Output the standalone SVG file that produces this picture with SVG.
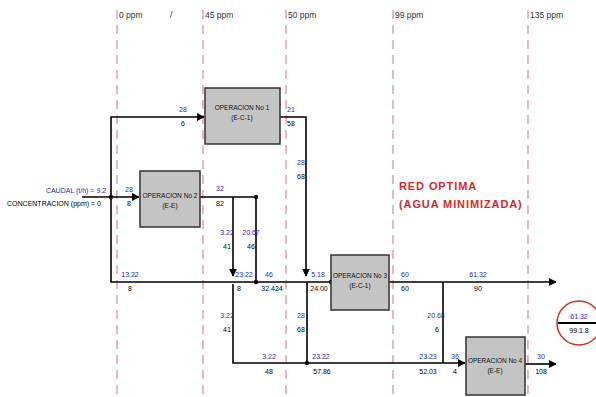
<svg xmlns="http://www.w3.org/2000/svg" width="596" height="397" viewBox="0 0 596 397">
<defs>
<marker id="arr" viewBox="0 0 10 10" refX="9" refY="5" markerWidth="5" markerHeight="5" orient="auto"><path d="M0,0 L10,5 L0,10 z" fill="#000"/></marker>
<style>
.grid{stroke:#d88a9a;stroke-width:1.2;stroke-dasharray:9,6;fill:none}
.ln{stroke:#000;stroke-width:1.6;fill:none}
.box{fill:#c4c4c4;stroke:#333;stroke-width:1.5}
.bt{font-family:"Liberation Sans",Arial,sans-serif;font-size:6.5px;fill:#111;text-anchor:middle}
.b{font-family:"Liberation Sans",Arial,sans-serif;font-size:7px;fill:#2a2ab0;text-anchor:middle}
.k{font-family:"Liberation Sans",Arial,sans-serif;font-size:7px;fill:#000;text-anchor:middle}
.hd{font-family:"Liberation Sans",Arial,sans-serif;font-size:8.5px;fill:#333}
.red{font-family:"Liberation Sans",Arial,sans-serif;font-size:11px;font-weight:bold;fill:#d42a2a;letter-spacing:0.9px}
</style>
</defs>
<rect width="596" height="397" fill="#fff"/>
<g id="grid">
<line class="grid" x1="117" y1="10" x2="117" y2="397"/>
<line class="grid" x1="203" y1="10" x2="203" y2="397"/>
<line class="grid" x1="286" y1="10" x2="286" y2="397"/>
<line class="grid" x1="393" y1="10" x2="393" y2="397"/>
<line class="grid" x1="528" y1="10" x2="528" y2="397"/>
<text class="hd" x="119" y="18">0 ppm</text>
<text class="hd" x="170" y="18">/</text>
<text class="hd" x="205" y="18">45 ppm</text>
<text class="hd" x="288" y="18">50 ppm</text>
<text class="hd" x="395" y="18">99 ppm</text>
<text class="hd" x="530" y="18">135 ppm</text>
</g>
<g id="connectors">
<polyline class="ln" points="111,197 111,117 204,117" marker-end="url(#arr)"/>
<line class="ln" x1="82" y1="197" x2="139" y2="197" marker-end="url(#arr)"/>
<polyline class="ln" points="111,197 111,282 556,282" marker-end="url(#arr)"/>
<polyline class="ln" points="280,117 306,117 306,276" marker-end="url(#arr)"/>
<line class="ln" x1="200" y1="197" x2="256" y2="197"/>
<line class="ln" x1="256" y1="197" x2="256" y2="282"/>
<polyline class="ln" points="233,197 233,276"/>
<path class="ln" d="M233,268 L233,276" marker-end="url(#arr)"/>
<polyline class="ln" points="233,284 233,363 465,363" marker-end="url(#arr)"/>
<line class="ln" x1="307" y1="282" x2="307" y2="363"/>
<line class="ln" x1="443" y1="282" x2="443" y2="363"/>
<line class="ln" x1="525" y1="364" x2="556" y2="364" marker-end="url(#arr)"/>
<circle cx="331" cy="282" r="2.2" fill="#000"/>
<circle cx="256" cy="282" r="2.2" fill="#000"/>
<circle cx="256" cy="197" r="2.2" fill="#000"/>
<circle cx="111" cy="197" r="2.2" fill="#000"/>
<circle cx="307" cy="363" r="2.2" fill="#000"/>
<text class="b" x="183" y="112">28</text><text class="k" x="183" y="126">6</text>
<text class="b" x="291" y="112">21</text><text class="k" x="291" y="126">58</text>
<text class="b" x="301" y="165">28</text><text class="k" x="301" y="179">68</text>
<text class="b" x="129" y="192">28</text><text class="k" x="129" y="206">8</text>
<text class="b" x="220" y="191">32</text><text class="k" x="220" y="206">82</text>
<text class="b" x="227" y="235">3.22</text><text class="k" x="227" y="249">41</text>
<text class="b" x="251" y="235">20.67</text><text class="k" x="251" y="249">46</text>
<text class="b" x="130" y="277">13.22</text><text class="k" x="130" y="291">8</text>
<text class="b" x="244" y="277">23.22</text><text class="k" x="239" y="291">8</text>
<text class="b" x="269" y="277">46</text><text class="k" x="272" y="291">32.424</text>
<text class="b" x="318" y="277">5.18</text><text class="k" x="319" y="291">24.00</text>
<text class="b" x="405" y="277">60</text><text class="k" x="405" y="291">60</text>
<text class="b" x="478" y="277">61.32</text><text class="k" x="478" y="291">90</text>
<text class="b" x="227" y="318">3.22</text><text class="k" x="227" y="332">41</text>
<text class="b" x="301" y="318">28</text><text class="k" x="301" y="332">68</text>
<text class="b" x="436" y="318">20.68</text><text class="k" x="437" y="332">6</text>
<text class="b" x="269" y="359">3.22</text><text class="k" x="269" y="374">48</text>
<text class="b" x="321" y="359">23.22</text><text class="k" x="322" y="374">57.86</text>
<text class="b" x="428" y="359">23.23</text><text class="k" x="428" y="374">52.03</text>
<text class="b" x="455" y="359">36</text><text class="k" x="455" y="374">4</text>
<text class="b" x="541" y="359">30</text><text class="k" x="541" y="374">108</text>
</g>
<g id="feed">
<text class="b" x="76" y="193">CAUDAL (t/h) = 9.2</text>
<text class="k" x="54" y="206">CONCENTRACION (ppm) =   0</text>
</g>
<g id="op1">
<rect class="box" x="205" y="88" width="75" height="56"/>
<text class="bt" x="242" y="110">OPERACION No 1</text>
<text class="bt" x="242" y="120">(E-C-1)</text>
</g>
<g id="op2">
<rect class="box" x="140" y="171" width="60" height="56"/>
<text class="bt" x="170" y="198" textLength="55" lengthAdjust="spacingAndGlyphs">OPERACION No 2</text>
<text class="bt" x="170" y="208">(E-E)</text>
</g>
<g id="op3">
<rect class="box" x="331" y="255" width="58" height="55"/>
<text class="bt" x="360" y="278" textLength="54" lengthAdjust="spacingAndGlyphs">OPERACION No 3</text>
<text class="bt" x="360" y="288">(E-C-1)</text>
</g>
<g id="op4">
<rect class="box" x="466" y="337" width="59" height="58"/>
<text class="bt" x="495" y="363" textLength="54" lengthAdjust="spacingAndGlyphs">OPERACION No 4</text>
<text class="bt" x="495" y="373">(E-E)</text>
</g>
<g id="sink">
<circle cx="579" cy="323" r="22" fill="none" stroke="#c0392b" stroke-width="1.5"/>
<line x1="558" y1="323" x2="596" y2="323" stroke="#000" stroke-width="2"/>
<text class="b" x="579" y="319">61.32</text>
<text class="k" x="579" y="333">99.1.8</text>
</g>
<g id="title">
<text class="red" x="399" y="190">RED   OPTIMA</text>
<text class="red" x="399" y="208">(AGUA MINIMIZADA)</text>
</g>
</svg>
